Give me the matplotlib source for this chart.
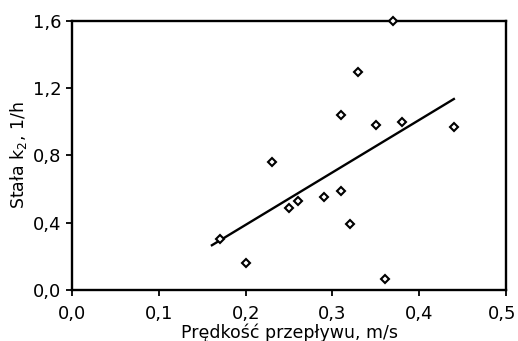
import matplotlib
matplotlib.use("Agg")
import matplotlib.pyplot as plt
import matplotlib.transforms as mtransforms

plt.rcParams['font.family'] = ['DejaVu Sans']

velocity = [0.37, 0.33, 0.31, 0.35, 0.38, 0.44, 0.23, 0.25, 0.26, 0.29, 0.31, 0.32, 0.36, 0.17, 0.20]
k2 = [1.60, 1.30, 1.04, 0.98, 1.00, 0.97, 0.76, 0.49, 0.53, 0.55, 0.59, 0.39, 0.065, 0.30, 0.16]
fit_x = [0.160, 0.441]
fit_y = [0.262, 1.14]
xticks = [0.0, 0.1, 0.2, 0.3, 0.4, 0.5]
xticklabels = ['0,0', '0,1', '0,2', '0,3', '0,4', '0,5']
yticks = [0.0, 0.4, 0.8, 1.2, 1.6]
yticklabels = ['0,0', '0,4', '0,8', '1,2', '1,6']

fig = plt.figure(figsize=(5.18, 3.41), dpi=100)
ax = fig.add_axes([0.139, 0.150, 0.838, 0.788])

ax.plot(fit_x, fit_y, color='black', lw=1.7, solid_capstyle='butt')
ax.plot(velocity, k2, linestyle='none', marker='D', markersize=4.4,
        markerfacecolor='white', markeredgecolor='black', markeredgewidth=1.5,
        clip_on=False, zorder=3)

ax.set_xlim(0, 0.5)
ax.set_ylim(0, 1.6)
ax.set_xticks(xticks)
ax.set_xticklabels(xticklabels)
ax.set_yticks(yticks)
ax.set_yticklabels(yticklabels)
ax.tick_params(direction='out', length=4, width=1.3, labelsize=13)
ax.tick_params(axis='x', pad=7)
ax.tick_params(axis='y', pad=3.5)
for s in ax.spines.values():
    s.set_linewidth(1.7)

# the last x tick label sits right at the figure edge; nudge it inside
last = ax.get_xticklabels()[-1]
last.set_transform(last.get_transform() + mtransforms.ScaledTranslation(-4 / 100, 0, fig.dpi_scale_trans))

ax.set_xlabel('Prędkość przepływu, m/s', fontsize=12.5, labelpad=0)
ax.set_ylabel('Stała k$_2$, 1/h', fontsize=12.5, labelpad=3)

fig.savefig('out.png', dpi=100)
